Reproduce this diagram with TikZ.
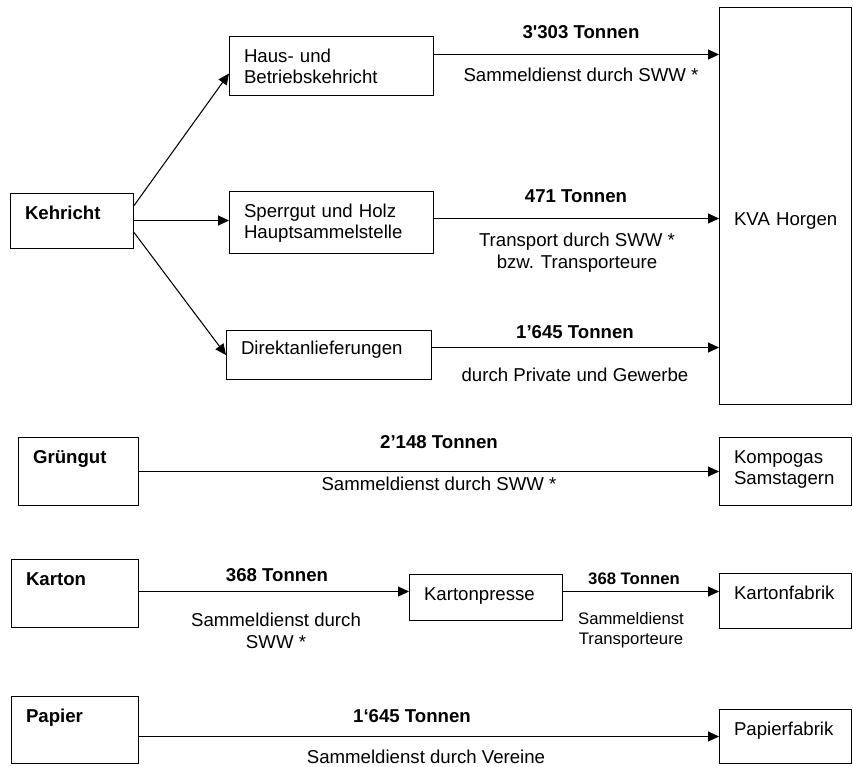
\documentclass[tikz,border=0pt]{standalone}
\usepackage{fontspec}
\setmainfont{Liberation Sans}
\usepackage{tikz}
\usetikzlibrary{
    arrows.meta,
    positioning
}

\begin{document}
\begin{tikzpicture}[
        >={Triangle[length=0.22cm,width=0.2cm]},
        box/.style 2 args={
            draw,
            semithick,
            anchor=north west,
            align=left,
            inner xsep=0.29cm,
            inner ysep=0pt,
            text width=#1-0.58cm,
            text height=0.51cm,
            text depth=#2-0.51cm,
            font=\fontsize{10.6}{12.5}\selectfont
        },
        amount/.style={
            anchor=north,
            inner sep=0pt,
            font=\fontsize{10.6}{12.5}\selectfont\bfseries
        },
        via/.style={
            anchor=north,
            inner sep=0pt,
            align=center,
            font=\fontsize{10.6}{12.5}\selectfont
        },
        flow/.style={->, semithick}
    ]
        \useasboundingbox (0,0) rectangle (17.06,15.34);

        % Kehricht
        \node[box={2.46cm}{1.10cm}] (kehricht) at (0.20,11.48) {\textbf{Kehricht}};
        \node[box={4.08cm}{1.18cm}] (haus) at (4.58,14.62) {Haus- und\\Betriebskehricht};
        \node[box={4.08cm}{1.24cm}] (sperrgut) at (4.58,11.52) {Sperrgut und Holz\\Hauptsammelstelle};
        \node[box={4.10cm}{0.98cm}, text height=0.47cm, text depth=0.51cm] (direkt) at (4.52,8.74) {Direktanlieferungen};
        \node[box={2.64cm}{7.94cm}, text width=2.06cm, inner xsep=0.29cm, text height=4.36cm, text depth=3.58cm] (kva) at (14.38,15.20) {\mbox{KVA Horgen}};

        \draw[flow] ([yshift=0.31cm]kehricht.east) -- ([yshift=-0.15cm]haus.west);
        \coordinate (kehrichtout) at ([yshift=0.01cm]kehricht.east);
        \draw[flow] (kehrichtout) -- (kehrichtout -| sperrgut.west);
        \draw[flow] ([yshift=-0.23cm]kehricht.east) -- (direkt.west);

        \coordinate (hausout) at ([yshift=0.23cm]haus.east);
        \coordinate (sperrout) at ([yshift=0.08cm]sperrgut.east);
        \coordinate (direktout) at ([yshift=0.15cm]direkt.east);
        \draw[flow] (hausout) -- (hausout -| kva.west);
        \draw[flow] (sperrout) -- (sperrout -| kva.west);
        \draw[flow] (direktout) -- (direktout -| kva.west);

        \node[amount] (t3303) at (11.62,14.84) {3\textquotesingle303 Tonnen};
        \node[via] (v3303) at (11.62,13.98) {Sammeldienst durch SWW *};
        \node[amount] (t471) at (11.52,11.56) {471 Tonnen};
        \node[via] (v471) at (11.54,10.68) {Transport durch SWW *\\bzw. Transporteure};
        \node[amount] (t1645) at (11.50,8.84) {1’645 Tonnen};
        \node[via] (v1645) at (11.50,7.98) {durch Private und Gewerbe};

        % Gruengut
        \node[box={2.40cm}{1.36cm}] (gruengut) at (0.36,6.60) {\textbf{Grüngut}};
        \node[box={2.64cm}{1.36cm}] (kompogas) at (14.38,6.60) {Kompogas\\Samstagern};
        \draw[flow] (gruengut.east) -- (gruengut.east -| kompogas.west);
        \node[amount] (t2148) at (8.78,6.64) {2’148 Tonnen};
        \node[via] (v2148) at (8.78,5.80) {Sammeldienst durch SWW *};

        % Karton
        \node[box={2.54cm}{1.36cm}] (karton) at (0.22,4.16) {\textbf{Karton}};
        \node[box={3.06cm}{0.92cm}] (presse) at (8.18,3.86) {Kartonpresse};
        \node[box={2.64cm}{1.10cm}] (kartonfabrik) at (14.38,3.88) {Kartonfabrik};
        \coordinate (kartonout) at ([yshift=0.04cm]karton.east);
        \draw[flow] (kartonout) -- (kartonout -| presse.west);
        \draw[flow] (kartonout -| presse.east) -- (kartonout -| kartonfabrik.west);
        \node[amount] (t368a) at (5.54,3.98) {368 Tonnen};
        \node[via] (v368a) at (5.52,3.08) {Sammeldienst durch\\SWW *};
        \node[amount, font=\fontsize{9.5}{11.4}\selectfont\bfseries] (t368b) at (12.68,3.88) {368 Tonnen};
        \node[via, font=\fontsize{9.5}{11.4}\selectfont] (v368b) at (12.62,3.10) {Sammeldienst\\Transporteure};

        % Papier
        \node[box={2.54cm}{1.34cm}] (papier) at (0.22,1.42) {\textbf{Papier}};
        \node[box={2.64cm}{1.08cm}] (papierfabrik) at (14.38,1.16) {Papierfabrik};
        \draw[flow] (papier.east |- papierfabrik.west) -- (papierfabrik.west);
        \node[amount] (t1645p) at (8.24,1.16) {1‘645 Tonnen};
        \node[via] (v1645p) at (8.52,0.34) {Sammeldienst durch Vereine};
    \end{tikzpicture}
\end{document}
